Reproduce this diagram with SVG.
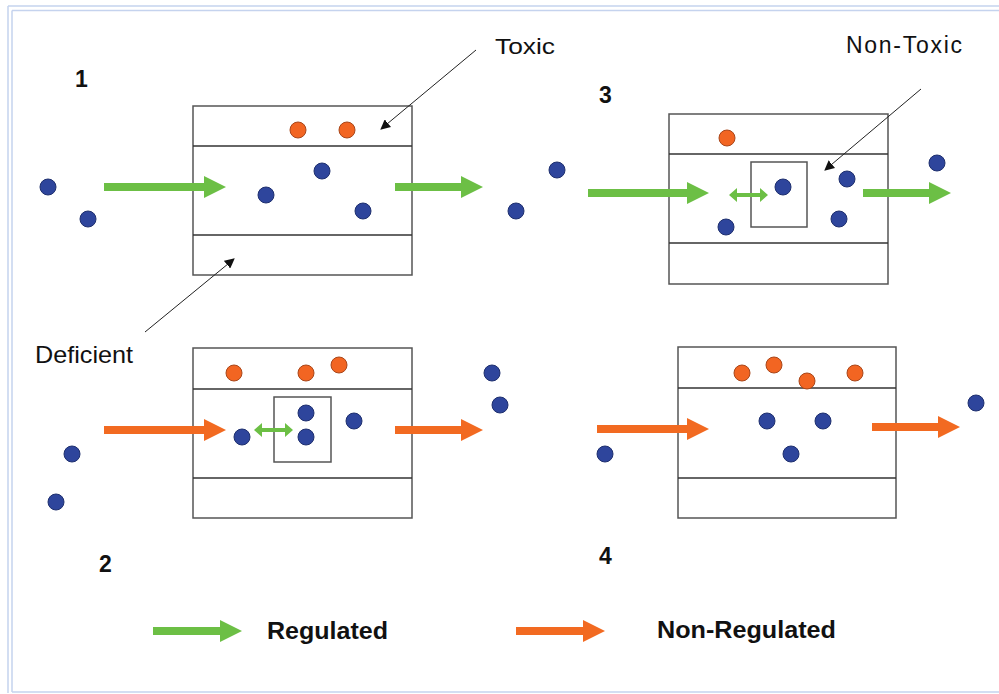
<svg xmlns="http://www.w3.org/2000/svg" width="999" height="694" viewBox="0 0 999 694">
<defs>
<style>
.frame{fill:none;stroke:#c5d3ee;stroke-width:1.5}
.box{fill:#fff;stroke:#555;stroke-width:1.5}
.div{stroke:#333;stroke-width:1.3}
.b{fill:#2e459c;stroke:#1e2f6e;stroke-width:1}
.o{fill:#f26522;stroke:#a8461a;stroke-width:1}
.t{font-family:"Liberation Sans",Arial,sans-serif;fill:#111}
.n{font-family:"Liberation Sans",Arial,sans-serif;font-size:23px;font-weight:bold;fill:#111}
.lg{font-family:"Liberation Sans",Arial,sans-serif;font-size:24px;font-weight:bold;fill:#111}
.ptr{stroke:#222;stroke-width:1;fill:none}
.g{fill:#6cbf45}
.r{fill:#f26a21}
</style>
<marker id="ah" viewBox="0 0 10 10" refX="9" refY="5" markerWidth="10" markerHeight="10" markerUnits="userSpaceOnUse" orient="auto">
<path d="M0,0 L10,5 L0,10 z" fill="#111"/>
</marker>
</defs>
<rect width="999" height="694" fill="#fff"/>
<g id="frame">
<line class="frame" x1="8" y1="6" x2="999" y2="6"/>
<line class="frame" x1="12" y1="10.5" x2="999" y2="10.5"/>
<line class="frame" x1="8" y1="6" x2="8" y2="693"/>
<line class="frame" x1="12" y1="10.5" x2="12" y2="692"/>
<line class="frame" x1="12" y1="692" x2="999" y2="692"/>
</g>

<g id="panel1">
<rect class="box" x="193" y="106" width="219" height="169"/>
<line class="div" x1="193" y1="146" x2="412" y2="146"/>
<line class="div" x1="193" y1="235" x2="412" y2="235"/>
<circle class="o" cx="298" cy="130" r="8"/>
<circle class="o" cx="347" cy="130" r="8"/>
<circle class="b" cx="48" cy="187" r="8"/>
<circle class="b" cx="88" cy="219" r="8"/>
<circle class="b" cx="266" cy="195" r="8"/>
<circle class="b" cx="322" cy="171" r="8"/>
<circle class="b" cx="363" cy="211" r="8"/>
<text class="n" x="75" y="87">1</text>
</g>

<g id="panel3">
<rect class="box" x="669" y="114" width="219" height="170"/>
<line class="div" x1="669" y1="154" x2="888" y2="154"/>
<line class="div" x1="669" y1="243" x2="888" y2="243"/>
<rect class="box" x="751" y="162" width="56" height="65"/>
<circle class="o" cx="727" cy="138" r="8"/>
<circle class="b" cx="557" cy="170" r="8"/>
<circle class="b" cx="516" cy="211" r="8"/>
<circle class="b" cx="783" cy="187" r="8"/>
<circle class="b" cx="847" cy="179" r="8"/>
<circle class="b" cx="726" cy="227" r="8"/>
<circle class="b" cx="839" cy="219" r="8"/>
<circle class="b" cx="937" cy="163" r="8"/>
<text class="n" x="599" y="103">3</text>
</g>

<g id="panel2">
<rect class="box" x="193" y="348" width="219" height="170"/>
<line class="div" x1="193" y1="389" x2="412" y2="389"/>
<line class="div" x1="193" y1="478" x2="412" y2="478"/>
<rect class="box" x="274" y="397" width="57" height="65"/>
<circle class="o" cx="234" cy="373" r="8"/>
<circle class="o" cx="306" cy="373" r="8"/>
<circle class="o" cx="339" cy="365" r="8"/>
<circle class="b" cx="72" cy="454" r="8"/>
<circle class="b" cx="56" cy="502" r="8"/>
<circle class="b" cx="242" cy="437" r="8"/>
<circle class="b" cx="306" cy="413" r="8"/>
<circle class="b" cx="306" cy="437" r="8"/>
<circle class="b" cx="354" cy="421" r="8"/>
<circle class="b" cx="492" cy="373" r="8"/>
<circle class="b" cx="500" cy="405" r="8"/>
<text class="n" x="99" y="572">2</text>
</g>

<g id="panel4">
<rect class="box" x="678" y="347" width="218" height="171"/>
<line class="div" x1="678" y1="388" x2="896" y2="388"/>
<line class="div" x1="678" y1="478" x2="896" y2="478"/>
<circle class="o" cx="742" cy="373" r="8"/>
<circle class="o" cx="774" cy="365" r="8"/>
<circle class="o" cx="807" cy="381" r="8"/>
<circle class="o" cx="855" cy="373" r="8"/>
<circle class="b" cx="605" cy="454" r="8"/>
<circle class="b" cx="767" cy="421" r="8"/>
<circle class="b" cx="823" cy="421" r="8"/>
<circle class="b" cx="791" cy="454" r="8"/>
<circle class="b" cx="976" cy="403" r="8"/>
<text class="n" x="599" y="564">4</text>
</g>

<g id="labels">
<text class="t" x="495" y="54" font-size="22" textLength="60" lengthAdjust="spacingAndGlyphs">Toxic</text>
<text class="t" x="846" y="53" font-size="23" textLength="116" lengthAdjust="spacing">Non-Toxic</text>
<text class="t" x="35" y="363" font-size="24" textLength="98" lengthAdjust="spacingAndGlyphs">Deficient</text>
</g>

<g id="legend">
<path class="g" d="M153,627 L220,627 L220,620 L242,631 L220,642 L220,635 L153,635 z"/>
<text class="lg" x="267" y="639" textLength="121" lengthAdjust="spacingAndGlyphs">Regulated</text>
<path class="r" d="M516,627 L583,627 L583,620 L605,631 L583,642 L583,635 L516,635 z"/>
<text class="lg" x="657" y="638" textLength="179" lengthAdjust="spacingAndGlyphs">Non-Regulated</text>
</g>

<g id="connectors">
<line class="ptr" x1="476" y1="50" x2="381" y2="129" marker-end="url(#ah)"/>
<line class="ptr" x1="921" y1="89" x2="825" y2="170" marker-end="url(#ah)"/>
<line class="ptr" x1="145" y1="332" x2="234" y2="259" marker-end="url(#ah)"/>
<path class="g" d="M104,183 L204,183 L204,176 L226,187 L204,198 L204,191 L104,191 z"/>
<path class="g" d="M395,183 L461,183 L461,176 L483,187 L461,198 L461,191 L395,191 z"/>
<path class="g" d="M588,189 L687,189 L687,182 L709,193 L687,204 L687,197 L588,197 z"/>
<path class="g" d="M863,189 L929,189 L929,182 L951,193 L929,204 L929,197 L863,197 z"/>
<path class="g" d="M729,195 L737,188 L737,193 L760,193 L760,188 L768,195 L760,202 L760,197 L737,197 L737,202 z"/>
<path class="r" d="M104,426 L204,426 L204,419 L226,430 L204,441 L204,434 L104,434 z"/>
<path class="r" d="M395,426 L461,426 L461,419 L483,430 L461,441 L461,434 L395,434 z"/>
<path class="g" d="M254,430 L262,423 L262,428 L285,428 L285,423 L293,430 L285,437 L285,432 L262,432 L262,437 z"/>
<path class="r" d="M597,425 L687,425 L687,418 L709,429 L687,440 L687,433 L597,433 z"/>
<path class="r" d="M872,423 L938,423 L938,416 L960,427 L938,438 L938,431 L872,431 z"/>
</g>
</svg>
